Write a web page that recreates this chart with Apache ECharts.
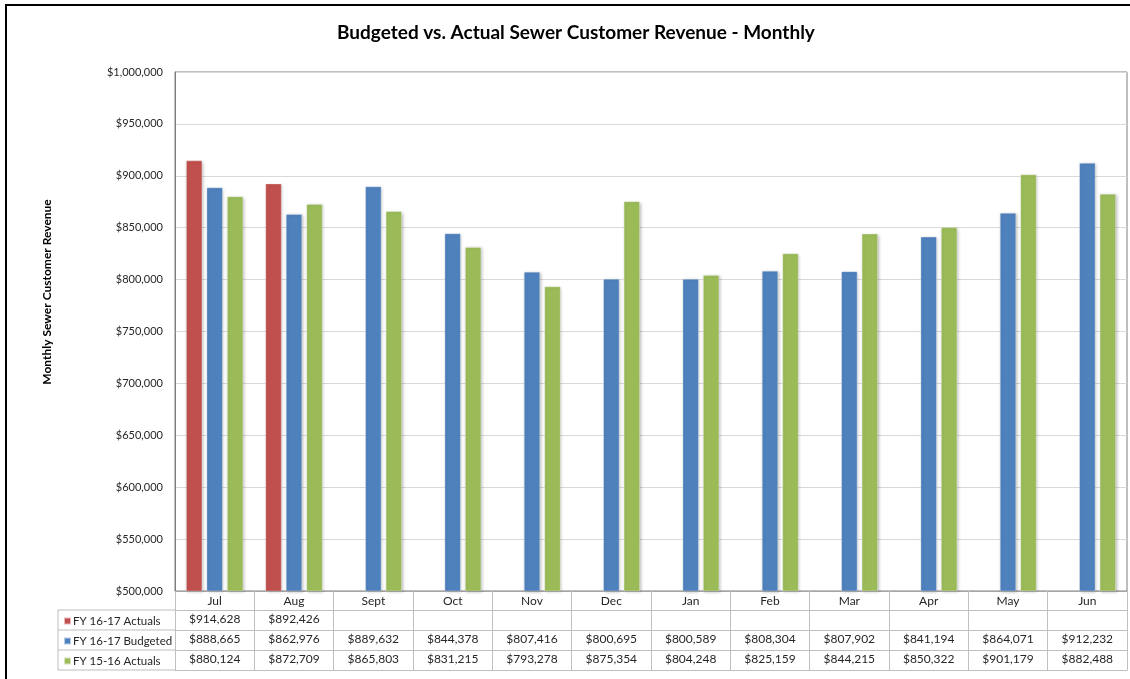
<!DOCTYPE html>
<html>
<head>
<meta charset="utf-8">
<script src="https://cdn.jsdelivr.net/npm/echarts@6/dist/echarts.min.js"></script>
<style>
  html, body { margin: 0; padding: 0; background: #fff; }
  #chart { width: 1130px; height: 679px; }
</style>
</head>
<body>
<div id="chart"></div>
<script>
// chart data
const months = ['Jul', 'Aug', 'Sept', 'Oct', 'Nov', 'Dec', 'Jan', 'Feb', 'Mar', 'Apr', 'May', 'Jun']
const actuals1617 = [914628, 892426, null, null, null, null, null, null, null, null, null, null]
const budgeted1617 = [888665, 862976, 889632, 844378, 807416, 800695, 800589, 808304, 807902, 841194, 864071, 912232]
const actuals1516 = [880124, 872709, 865803, 831215, 793278, 875354, 804248, 825159, 844215, 850322, 901179, 882488]
const seriesNames = ['FY 16-17 Actuals', 'FY 16-17 Budgeted', 'FY 15-16 Actuals']

const money = (v) => (v == null ? '' : '$' + v.toLocaleString('en-US'))

const FONT = 'Lato, "Liberation Sans", sans-serif'
const colors = ['#C0504D', '#4F81BD', '#9BBB59']
const tableLine = '#bfbfbf'

// one bottom axis per table row, stacked with offsets
const rowAxis = (values, offset, showLabels) => ({
  type: 'category',
  gridIndex: 0,
  position: 'bottom',
  offset: offset,
  data: values.map(money),
  axisLine: { show: true, lineStyle: { color: tableLine, width: 1 } },
  axisTick: { show: false },
  splitLine: { show: false },
  axisLabel: {
    show: showLabels,
    interval: 0,
    margin: 3,
    fontFamily: FONT,
    fontSize: 12,
    color: '#262626'
  }
})

const chart = echarts.init(document.getElementById('chart'))

const barSeries = (name, data, color) => ({
  name: name,
  type: 'bar',
  data: data,
  barWidth: 16,
  barGap: '28%',
  itemStyle: {
    color: color,
    borderColor: 'rgba(255,255,255,0.6)',
    borderWidth: 0.5,
    shadowBlur: 3,
    shadowColor: 'rgba(0,0,0,0.25)',
    shadowOffsetX: 1,
    shadowOffsetY: 1
  }
})

chart.setOption({
  animation: false,
  backgroundColor: '#fff',
  title: {
    text: 'Budgeted vs. Actual Sewer Customer Revenue - Monthly',
    left: 332,
    top: 18,
    textStyle: { fontFamily: FONT, fontSize: 19, fontWeight: 'bold', color: '#000' }
  },
  legend: {
    data: seriesNames,
    orient: 'vertical',
    left: 58,
    top: 609,
    itemGap: 6,
    itemWidth: 7,
    itemHeight: 7,
    icon: 'rect',
    selectedMode: false,
    textStyle: { fontFamily: FONT, fontSize: 11.5, color: '#262626', lineHeight: 14, padding: [0, 0, 0, -3] }
  },
  grid: {
    left: 175,
    right: 3,
    top: 72,
    bottom: 88,
    show: true,
    borderColor: '#7f7f7f',
    borderWidth: 1
  },
  xAxis: [
    {
      type: 'category',
      data: months,
      axisLine: { lineStyle: { color: '#a6a6a6' } },
      axisTick: {
        show: true,
        interval: 0,
        alignWithLabel: false,
        length: 79,
        lineStyle: { color: tableLine }
      },
      axisLabel: { interval: 0, margin: 4, fontFamily: FONT, fontSize: 12, color: '#262626' }
    },
    rowAxis(actuals1617, 19, true),
    rowAxis(budgeted1617, 39, true),
    rowAxis(actuals1516, 59, true),
    rowAxis(months.map(() => null), 79, false)
  ],
  yAxis: {
    type: 'value',
    min: 500000,
    max: 1000000,
    interval: 50000,
    axisLine: { show: true, lineStyle: { color: '#7f7f7f' } },
    axisTick: { show: false },
    splitLine: { lineStyle: { color: '#d9d9d9' } },
    axisLabel: {
      margin: 12,
      fontFamily: FONT,
      fontSize: 11,
      color: '#262626',
      formatter: (v) => money(v)
    }
  },
  series: [
    barSeries(seriesNames[0], actuals1617, colors[0]),
    barSeries(seriesNames[1], budgeted1617, colors[1]),
    barSeries(seriesNames[2], actuals1516, colors[2])
  ],
  graphic: [
    // outer chart border
    {
      type: 'rect',
      shape: { x: 6, y: 5, width: 1140, height: 700 },
      style: { fill: 'none', stroke: '#000', lineWidth: 2 },
      silent: true
    },
    // row label box of the data table
    {
      type: 'group',
      silent: true,
      children: [
        { type: 'line', shape: { x1: 58, y1: 610, x2: 175, y2: 610 }, style: { stroke: tableLine } },
        { type: 'line', shape: { x1: 58, y1: 630, x2: 175, y2: 630 }, style: { stroke: tableLine } },
        { type: 'line', shape: { x1: 58, y1: 650, x2: 175, y2: 650 }, style: { stroke: tableLine } },
        { type: 'line', shape: { x1: 58, y1: 670, x2: 175, y2: 670 }, style: { stroke: tableLine } },
        { type: 'line', shape: { x1: 58, y1: 610, x2: 58, y2: 670 }, style: { stroke: tableLine } }
      ]
    },
    // y axis title
    {
      type: 'text',
      x: 47,
      y: 292,
      rotation: Math.PI / 2,
      silent: true,
      style: {
        text: 'Monthly Sewer Customer Revenue',
        fontFamily: FONT,
        fontSize: 12,
        fontWeight: 'bold',
        fill: '#000',
        align: 'center',
        verticalAlign: 'middle'
      }
    }
  ]
})
</script>
</body>
</html>
